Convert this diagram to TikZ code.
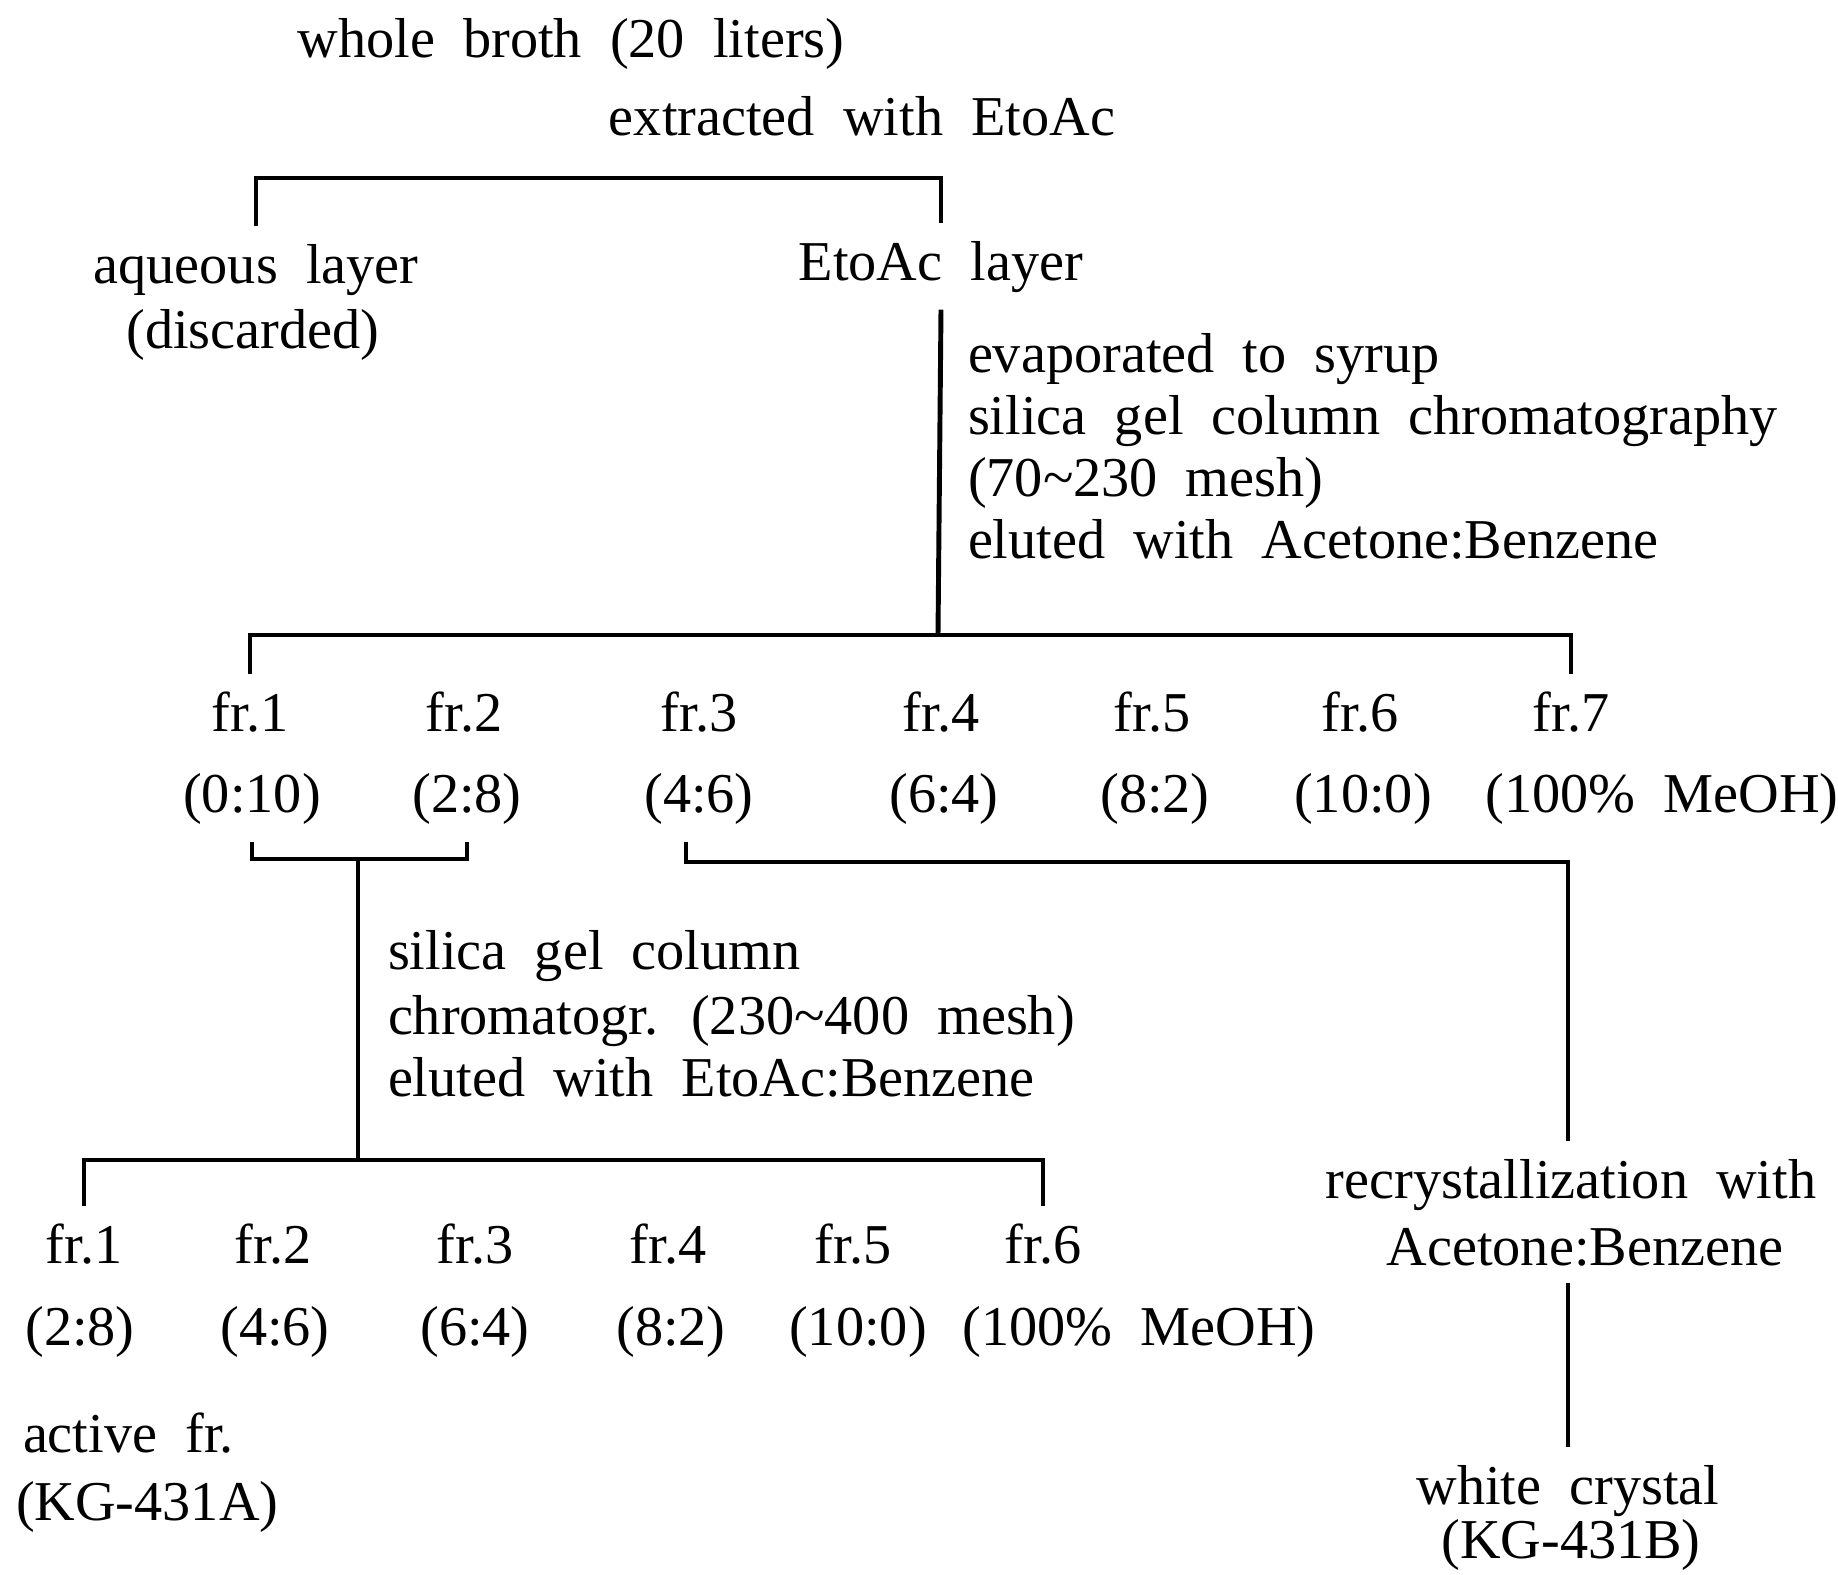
\documentclass[tikz,border=0pt]{standalone}
\usepackage{fontspec}
\setmainfont{Liberation Serif}[WordSpace=2]
\usepackage{tikz}
\usetikzlibrary{calc}

\begin{document}
\begin{tikzpicture}[
        x=0.01cm, y=-0.01cm,
        lbl/.style={
            anchor=base,
            inner sep=0pt,
            outer xsep=0pt,
            outer ysep=5pt,
            font=\fontsize{16}{19}\selectfont
        },
        lleft/.style={
            lbl,
            anchor=base west
        },
        line/.style={
            line width=1.4pt
        }
    ]

        \useasboundingbox (0,0) rectangle (1838,1575);

        \node[lbl] (broth) at (571,57) {whole broth (20 liters)};
        \node[lbl] (extract) at (862,135) {extracted with EtoAc};
        \node[lbl] (aqueous) at (256,283) {aqueous layer};
        \node[lbl] (discard) at (253,348) {(discarded)};
        \node[lbl] (etoac) at (941,280) {EtoAc layer};

        \node[lleft] (evap) at (968,372) {evaporated to syrup};
        \node[lleft] (silica) at (968,434) {silica gel column chromatography};
        \node[lleft] (mesh) at (968,496) {(70\textasciitilde230 mesh)};
        \node[lleft] (elute) at (968,558) {eluted with Acetone:Benzene};

        \node[lbl] (fa1) at (250,731) {fr.1};
        \node[lbl] (fa2) at (464,731) {fr.2};
        \node[lbl] (fa3) at (699,731) {fr.3};
        \node[lbl] (fa4) at (941,731) {fr.4};
        \node[lbl] (fa5) at (1152,731) {fr.5};
        \node[lbl] (fa6) at (1360,731) {fr.6};
        \node[lbl] (fa7) at (1571,731) {fr.7};

        \node[lbl] (ra1) at (252,812) {(0:10)};
        \node[lbl] (ra2) at (467,812) {(2:8)};
        \node[lbl] (ra3) at (699,812) {(4:6)};
        \node[lbl] (ra4) at (944,812) {(6:4)};
        \node[lbl] (ra5) at (1155,812) {(8:2)};
        \node[lbl] (ra6) at (1363,812) {(10:0)};
        \node[lbl] (ra7) at (1662,812) {(100\% MeOH)};

        \node[lleft] (silb) at (388,969) {silica gel column};
        \node[lleft] (chromb) at (388,1034) {chromatogr. (230\textasciitilde400 mesh)};
        \node[lleft] (eluteb) at (388,1096) {eluted with EtoAc:Benzene};

        \node[lbl] (fb1) at (84,1263) {fr.1};
        \node[lbl] (fb2) at (273,1263) {fr.2};
        \node[lbl] (fb3) at (475,1263) {fr.3};
        \node[lbl] (fb4) at (668,1263) {fr.4};
        \node[lbl] (fb5) at (853,1263) {fr.5};
        \node[lbl] (fb6) at (1043,1263) {fr.6};

        \node[lbl] (rb1) at (80,1345) {(2:8)};
        \node[lbl] (rb2) at (275,1345) {(4:6)};
        \node[lbl] (rb3) at (475,1345) {(6:4)};
        \node[lbl] (rb4) at (671,1345) {(8:2)};
        \node[lbl] (rb5) at (858,1345) {(10:0)};
        \node[lbl] (rb6) at (1139,1345) {(100\% MeOH)};

        \node[lleft] (active) at (23,1452) {active fr.};
        \node[lleft] (kga) at (16,1520) {(KG-431A)};

        \node[lbl] (recry) at (1571,1198) {recrystallization with};
        \node[lbl] (acben) at (1585,1265) {Acetone:Benzene};
        \node[lbl] (white) at (1568,1504) {white crystal};
        \node[lbl] (kgb) at (1571,1558) {(KG-431B)};

        \coordinate (split) at (595,178);
        \coordinate (bara) at (938,635);
        \coordinate (join) at (358,859);
        \coordinate (barb) at (358,1160);
        \coordinate (turn) at (1568,862);

        \draw[line] (aqueous.north) |- (split) -| (etoac.north);
        \draw[line] (etoac.south) -- (bara);
        \draw[line] (fa1.north) |- (bara) -| (fa7.north);
        \draw[line] (ra1.south) |- (join) -| (ra2.south);
        \draw[line] (join) -- (barb);
        \draw[line] (fb1.north) |- (barb) -| (fb6.north);
        \draw[line] ([xshift=-0.13cm]ra3.south) |- (turn) -- (turn |- recry.north);
        \draw[line] (turn |- acben.south) -- (turn |- white.north);

    \end{tikzpicture}
\end{document}
